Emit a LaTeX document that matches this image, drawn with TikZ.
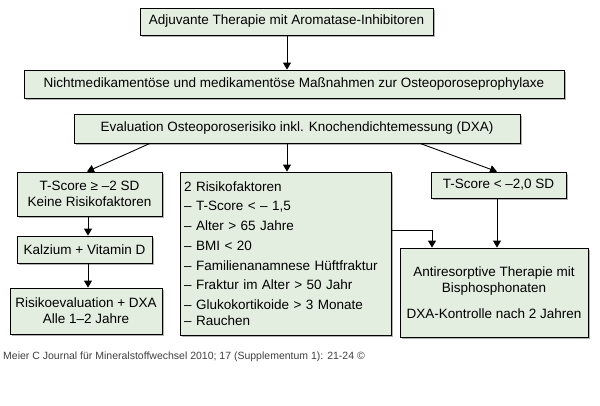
\documentclass[tikz,border=0pt]{standalone}
\usepackage{fontspec}
\setmainfont{Liberation Sans}
\usetikzlibrary{arrows.meta,shadows}
\definecolor{bfill}{HTML}{E4EEE0}
\begin{document}
\begin{tikzpicture}[x=1pt,y=-1pt,
  bx/.style={draw=black,fill=bfill,line width=0.8pt,inner sep=0pt,
    drop shadow={shadow xshift=2pt,shadow yshift=-2pt,fill=gray!60,opacity=1},
    font=\fontsize{13.5}{16}\selectfont},
  ar/.style={-{Triangle[length=7pt,width=8pt]},line width=0.9pt}]
\useasboundingbox (0,0) rectangle (600,406);
\fill[white] (0,0) rectangle (600,406);
\newcommand\bx[6]{\node[bx,minimum width=#4-#2,minimum height=#5-#3,align=center] (#1) at ({(#2+#4)/2},{(#3+#5)/2}) {#6};}
\bx{b1}{140}{8}{433}{35}{Adjuvante Therapie mit Aromatase-Inhibitoren}
\bx{b2}{24}{70}{564}{98}{Nichtmedikamentöse und medikamentöse Maßnahmen zur Osteoporoseprophylaxe}
\bx{b3}{74}{114}{520}{143}{Evaluation Osteoporoserisiko inkl. Knochendichtemessung (DXA)}
\bx{b4}{17}{172}{162}{216}{T-Score ≥ –2 SD\\Keine Risikofaktoren}
\node[bx,minimum width=211,minimum height=163,align=left,text width=203] (b5) at (285.5,253.5) {\fontsize{13.5}{19.7}\selectfont 2 Risikofaktoren\\– T-Score < – 1,5\\– Alter > 65 Jahre\\– BMI < 20\\– Familienanamnese Hüftfraktur\\– Fraktur im Alter > 50 Jahr\\– Glukokortikoide > 3 Monate\\– Rauchen};
\bx{b6}{431}{172}{566}{198}{T-Score < –2,0 SD}
\bx{b7}{17}{236}{152}{263}{Kalzium + Vitamin D}
\bx{b8}{10}{288}{162}{334}{Risikoevaluation + DXA\\Alle 1–2 Jahre}
\bx{b9}{400}{248}{588}{337}{Antiresorptive Therapie mit\\Bisphosphonaten\\[10pt]DXA-Kontrolle nach 2 Jahren}
\node[anchor=west,font=\fontsize{10.5}{12}\selectfont,text=black!75,inner sep=0pt] (ft) at (3,357) {Meier C Journal für Mineralstoffwechsel 2010; 17 (Supplementum 1): 21-24 ©};
\draw[ar] (b1.south -| 287,0) -- (b2.north -| 287,0);
\draw[ar] (b3.south -| 150,0) -- (b4.north -| 87,0);
\draw[ar] (b3.south -| 287,0) -- (b5.north -| 287,0);
\draw[ar] (b3.south -| 420,0) -- (b6.north -| 497,0);
\draw[ar] (b4.south -| 88,0) -- (b7.north -| 88,0);
\draw[ar] (b7.south -| 88,0) -- (b8.north -| 88,0);
\draw[ar] (b6.south -| 497,0) -- (b9.north -| 497,0);
\draw[ar] (b5.east |- 0,230) -- (432,230) -- (b9.north -| 432,0);
\end{tikzpicture}
\end{document}
